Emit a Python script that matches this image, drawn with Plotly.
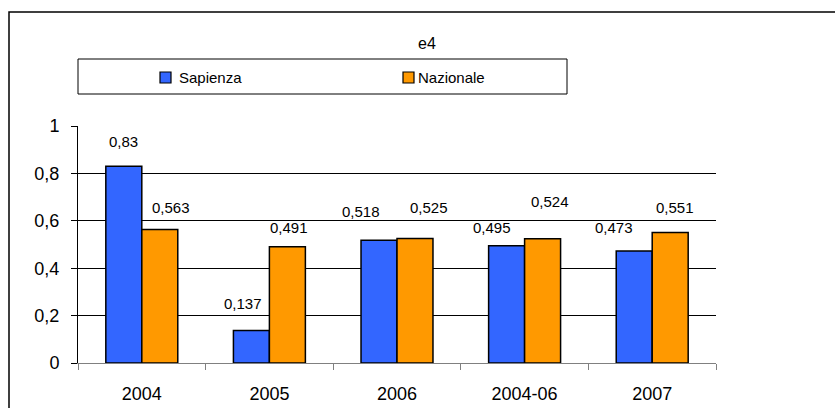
import plotly.graph_objects as go

# Data
categories = ["2004", "2005", "2006", "2004-06", "2007"]
sapienza = [0.83, 0.137, 0.518, 0.495, 0.473]
nazionale = [0.563, 0.491, 0.525, 0.524, 0.551]
sapienza_labels = ["0,83", "0,137", "0,518", "0,495", "0,473"]
nazionale_labels = ["0,563", "0,491", "0,525", "0,524", "0,551"]
y_ticks = [0, 0.2, 0.4, 0.6, 0.8, 1]
y_ticklabels = ["0", "0,2", "0,4", "0,6", "0,8", "1"]

# Hand-placed value labels: pixel offsets (dx from bar centre, dy above bar top)
sapienza_label_offsets = [(0, 25), (-8, 27), (-18, 29), (-15, 18), (-20, 23)]
nazionale_label_offsets = [(11, 22), (2, 19), (14, 31), (7, 37), (5, 25)]

BLUE = "#3366FF"
ORANGE = "#FF9900"
FONT = "Liberation Sans, Arial, sans-serif"

W, H = 835, 408
ML, MR, MT, MB = 78, 119, 126, 45
PW = W - ML - MR
PH = H - MT - MB
BAR_HALF = 18  # half of the distance between the two bar centres in a group


def px_x(px):
    return (px - ML) / PW


def px_y(py):
    return (H - MB - py) / PH


fig = go.Figure()
fig.add_trace(go.Bar(x=categories, y=sapienza, name="Sapienza",
                     marker=dict(color=BLUE, line=dict(color="black", width=1.5))))
fig.add_trace(go.Bar(x=categories, y=nazionale, name="Nazionale",
                     marker=dict(color=ORANGE, line=dict(color="black", width=1.5))))

# value labels above each bar (category index used as the x position)
annotations = []
for i, (v, t, (dx, dy)) in enumerate(zip(sapienza, sapienza_labels, sapienza_label_offsets)):
    annotations.append(dict(x=i, y=v, text=t, showarrow=False, xshift=-BAR_HALF + dx, yshift=dy,
                            xanchor="center", yanchor="middle",
                            font=dict(family=FONT, size=15, color="black")))
for i, (v, t, (dx, dy)) in enumerate(zip(nazionale, nazionale_labels, nazionale_label_offsets)):
    annotations.append(dict(x=i, y=v, text=t, showarrow=False, xshift=BAR_HALF + dx, yshift=dy,
                            xanchor="center", yanchor="middle",
                            font=dict(family=FONT, size=15, color="black")))

# title
annotations.append(dict(xref="paper", yref="paper", x=px_x(427), y=px_y(43), text="e4",
                        xanchor="center", yanchor="middle", showarrow=False,
                        font=dict(family=FONT, size=16, color="black")))
# legend texts
annotations.append(dict(xref="paper", yref="paper", x=px_x(177), y=px_y(77), text="Sapienza",
                        xanchor="left", yanchor="middle", showarrow=False,
                        font=dict(family=FONT, size=15, color="black")))
annotations.append(dict(xref="paper", yref="paper", x=px_x(416), y=px_y(77), text="Nazionale",
                        xanchor="left", yanchor="middle", showarrow=False,
                        font=dict(family=FONT, size=15, color="black")))

shapes = [
    # outer frame
    dict(type="rect", xref="paper", yref="paper", x0=px_x(9), x1=px_x(845), y0=px_y(420), y1=px_y(12),
         line=dict(color="black", width=1.5), fillcolor="rgba(0,0,0,0)", layer="below"),
    # legend box
    dict(type="rect", xref="paper", yref="paper", x0=px_x(78), x1=px_x(567), y0=px_y(94), y1=px_y(59),
         line=dict(color="black", width=1), fillcolor="white"),
    dict(type="rect", xref="paper", yref="paper", x0=px_x(160), x1=px_x(171), y0=px_y(83), y1=px_y(72),
         line=dict(color="black", width=1.2), fillcolor=BLUE),
    dict(type="rect", xref="paper", yref="paper", x0=px_x(403), x1=px_x(414), y0=px_y(83), y1=px_y(72),
         line=dict(color="black", width=1.2), fillcolor=ORANGE),
]

fig.update_layout(
    width=W, height=H,
    margin=dict(l=ML, r=MR, t=MT, b=MB, pad=0, autoexpand=False),
    paper_bgcolor="white", plot_bgcolor="white",
    barmode="group", bargap=0.436, bargroupgap=0,
    showlegend=False,
    font=dict(family=FONT, color="black"),
    annotations=annotations, shapes=shapes,
    xaxis=dict(type="category", range=[-0.5, len(categories) - 0.5], autorange=False,
               automargin=False,
               tickson="boundaries", ticks="outside", ticklen=6, tickangle=0,
               tickcolor="#808080", showline=True, linecolor="#808080", linewidth=1,
               showgrid=False, ticklabelstandoff=14,
               tickfont=dict(family=FONT, size=18, color="black")),
    yaxis=dict(range=[0, 1.0], autorange=False, automargin=False,
               tickvals=y_ticks, ticktext=y_ticklabels,
               ticks="outside", ticklen=6, tickcolor="black", showline=True, linecolor="black",
               linewidth=1, showgrid=True, gridcolor="black", gridwidth=1, zeroline=False,
               ticklabelstandoff=8,
               tickfont=dict(family=FONT, size=18, color="black")),
)

fig.write_html("out.html")
